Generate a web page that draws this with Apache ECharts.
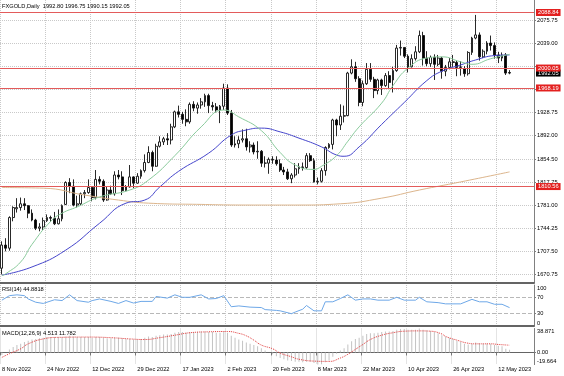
<!DOCTYPE html>
<html>
<head>
<meta charset="utf-8">
<title>FXGOLD Daily</title>
<script src="https://cdn.jsdelivr.net/npm/echarts@6/dist/echarts.min.js"></script>
<style>
  html, body { margin: 0; padding: 0; background: #fff; }
  #chart { width: 564px; height: 376px; }
</style>
</head>
<body>
<div id="chart"></div>
<script>
// bar dates (daily, broker calendar incl. two short Sunday sessions in March)
const dates = [
  '8 Nov 2022', '9 Nov 2022', '10 Nov 2022', '11 Nov 2022', '14 Nov 2022', '15 Nov 2022', '16 Nov 2022', '17 Nov 2022',
  '18 Nov 2022', '21 Nov 2022', '22 Nov 2022', '23 Nov 2022', '24 Nov 2022', '25 Nov 2022', '28 Nov 2022', '29 Nov 2022',
  '30 Nov 2022', '1 Dec 2022', '2 Dec 2022', '5 Dec 2022', '6 Dec 2022', '7 Dec 2022', '8 Dec 2022', '9 Dec 2022',
  '12 Dec 2022', '13 Dec 2022', '14 Dec 2022', '15 Dec 2022', '16 Dec 2022', '19 Dec 2022', '20 Dec 2022', '21 Dec 2022',
  '22 Dec 2022', '23 Dec 2022', '27 Dec 2022', '28 Dec 2022', '29 Dec 2022', '30 Dec 2022', '3 Jan 2023', '4 Jan 2023',
  '5 Jan 2023', '6 Jan 2023', '9 Jan 2023', '10 Jan 2023', '11 Jan 2023', '12 Jan 2023', '13 Jan 2023', '16 Jan 2023',
  '17 Jan 2023', '18 Jan 2023', '19 Jan 2023', '20 Jan 2023', '23 Jan 2023', '24 Jan 2023', '25 Jan 2023', '26 Jan 2023',
  '27 Jan 2023', '30 Jan 2023', '31 Jan 2023', '1 Feb 2023', '2 Feb 2023', '3 Feb 2023', '6 Feb 2023', '7 Feb 2023',
  '8 Feb 2023', '9 Feb 2023', '10 Feb 2023', '13 Feb 2023', '14 Feb 2023', '15 Feb 2023', '16 Feb 2023', '17 Feb 2023',
  '20 Feb 2023', '21 Feb 2023', '22 Feb 2023', '23 Feb 2023', '24 Feb 2023', '27 Feb 2023', '28 Feb 2023', '1 Mar 2023',
  '2 Mar 2023', '3 Mar 2023', '6 Mar 2023', '7 Mar 2023', '8 Mar 2023', '9 Mar 2023', '10 Mar 2023', '12 Mar 2023',
  '13 Mar 2023', '14 Mar 2023', '15 Mar 2023', '16 Mar 2023', '17 Mar 2023', '19 Mar 2023', '20 Mar 2023', '21 Mar 2023',
  '22 Mar 2023', '23 Mar 2023', '24 Mar 2023', '27 Mar 2023', '28 Mar 2023', '29 Mar 2023', '30 Mar 2023', '31 Mar 2023',
  '3 Apr 2023', '4 Apr 2023', '5 Apr 2023', '6 Apr 2023', '10 Apr 2023', '11 Apr 2023', '12 Apr 2023', '13 Apr 2023',
  '14 Apr 2023', '17 Apr 2023', '18 Apr 2023', '19 Apr 2023', '20 Apr 2023', '21 Apr 2023', '24 Apr 2023', '25 Apr 2023',
  '26 Apr 2023', '27 Apr 2023', '28 Apr 2023', '1 May 2023', '2 May 2023', '3 May 2023', '4 May 2023', '5 May 2023',
  '8 May 2023', '9 May 2023', '10 May 2023', '11 May 2023', '12 May 2023', '15 May 2023', '16 May 2023', '17 May 2023'
]

const open = [
  1680, 1717, 1712, 1761, 1775, 1777, 1783, 1780, 1768, 1757, 1744, 1746, 1756, 1761, 1760, 1751,
  1759, 1782, 1817, 1811, 1781, 1783, 1799, 1801, 1809, 1793, 1822, 1819, 1789, 1805, 1799, 1829,
  1826, 1804, 1810, 1826, 1816, 1827, 1836, 1849, 1865, 1843, 1875, 1882, 1887, 1885, 1906, 1930,
  1926, 1918, 1914, 1942, 1936, 1941, 1946, 1956, 1940, 1938, 1933, 1939, 1968, 1928, 1877, 1879,
  1885, 1887, 1874, 1877, 1866, 1867, 1848, 1848, 1854, 1853, 1847, 1837, 1834, 1823, 1829, 1839,
  1842, 1841, 1860, 1852, 1818, 1819, 1836, 1873, 1878, 1917, 1909, 1923, 1924, 1992, 2002, 1983,
  1945, 1975, 1998, 1982, 1964, 1981, 1972, 1988, 1981, 1996, 2032, 2033, 2019, 2002, 2015, 2026,
  2052, 2016, 2007, 2017, 2006, 2016, 1995, 2001, 2010, 2009, 2001, 1999, 1991, 2025, 2048, 2053,
  2018, 2027, 2040, 2036, 2021, 2016, 2021, 1992.80
]
const high = [
  1723, 1728, 1763, 1779, 1792, 1793, 1792, 1781, 1774, 1759, 1752, 1761, 1766, 1764, 1770, 1774,
  1782, 1819, 1824, 1822, 1796, 1801, 1805, 1822, 1810, 1837, 1827, 1822, 1810, 1812, 1835, 1837,
  1835, 1813, 1845, 1827, 1832, 1838, 1862, 1875, 1868, 1879, 1891, 1890, 1896, 1911, 1932, 1940,
  1930, 1934, 1945, 1947, 1945, 1952, 1959, 1959, 1946, 1944, 1941, 1975, 1974, 1933, 1891, 1891,
  1902, 1903, 1883, 1881, 1883, 1869, 1859, 1857, 1859, 1859, 1854, 1842, 1839, 1832, 1848, 1848,
  1849, 1864, 1864, 1856, 1825, 1840, 1875, 1880, 1919, 1919, 1942, 1940, 1994, 2014, 2010, 1987,
  1980, 2008, 2008, 1986, 1983, 1983, 1992, 1995, 2002, 2037, 2044, 2033, 2022, 2022, 2035, 2060,
  2058, 2027, 2020, 2022, 2021, 2018, 2005, 2016, 2021, 2012, 2011, 2003, 2027, 2050, 2085, 2057,
  2030, 2043, 2052, 2041, 2026, 2025, 2024, 1996.75
]
const low = [
  1670, 1707, 1708, 1755, 1769, 1772, 1773, 1760, 1755, 1741, 1739, 1741, 1754, 1754, 1749, 1750,
  1755, 1781, 1800, 1779, 1777, 1781, 1792, 1799, 1787, 1790, 1814, 1786, 1788, 1797, 1796, 1822,
  1797, 1803, 1809, 1808, 1815, 1823, 1833, 1848, 1835, 1842, 1873, 1877, 1877, 1878, 1904, 1921,
  1911, 1907, 1911, 1931, 1927, 1935, 1938, 1928, 1932, 1929, 1912, 1933, 1925, 1874, 1873, 1872,
  1881, 1868, 1865, 1862, 1855, 1842, 1841, 1831, 1847, 1844, 1834, 1829, 1821, 1816, 1825, 1831,
  1836, 1839, 1850, 1817, 1814, 1817, 1828, 1871, 1870, 1891, 1901, 1913, 1923, 1990, 1978, 1939,
  1939, 1973, 1978, 1952, 1958, 1957, 1970, 1967, 1961, 1994, 2020, 2016, 1993, 2001, 2012, 2024,
  2004, 2003, 2002, 1981, 2003, 1983, 1987, 1998, 2002, 1987, 1988, 1986, 1988, 2021, 2046, 2012,
  2016, 2022, 2028, 2015, 2008, 2011, 1989, 1990.15
]
const close = [
  1717, 1712, 1761, 1777, 1777, 1783, 1780, 1768, 1757, 1744, 1746, 1756, 1761, 1760, 1751, 1759,
  1780, 1817, 1811, 1781, 1783, 1799, 1801, 1809, 1793, 1822, 1819, 1789, 1805, 1799, 1829, 1826,
  1804, 1810, 1826, 1816, 1827, 1836, 1849, 1865, 1843, 1875, 1882, 1887, 1885, 1906, 1930, 1926,
  1918, 1914, 1942, 1936, 1941, 1946, 1956, 1940, 1938, 1933, 1939, 1968, 1928, 1877, 1879, 1885,
  1887, 1874, 1877, 1866, 1867, 1848, 1848, 1854, 1853, 1847, 1837, 1834, 1823, 1829, 1839, 1842,
  1841, 1860, 1852, 1818, 1819, 1836, 1873, 1878, 1917, 1909, 1923, 1924, 1992, 2002, 1983, 1945,
  1975, 1998, 1982, 1964, 1981, 1972, 1988, 1977, 1996, 2032, 2033, 2019, 2002, 2015, 2026, 2052,
  2016, 2007, 2017, 2006, 2016, 1995, 2001, 2010, 2009, 2001, 2002, 1991, 2025, 2048, 2053, 2018,
  2027, 2040, 2036, 2021, 2016, 2021, 1992, 1992.05
]

// moving averages: [bar index, value]
const maFast = [
  [0, 1668], [1, 1671], [5, 1690], [8, 1718], [13, 1755], [16, 1768], [20, 1778], [26, 1794], [34, 1805],
  [39, 1821], [46, 1860], [53, 1906], [59, 1933], [63, 1922], [69, 1900], [74, 1865], [78, 1845], [83, 1838],
  [85, 1843], [89, 1860], [92, 1883], [95, 1906], [101, 1944], [104, 1972], [108, 2000], [113, 2016],
  [117, 2018], [122, 2010], [125, 2006], [130, 2015], [135, 2022]
]
const maMid = [
  [0, 1669], [8, 1682], [17, 1709], [26, 1752], [33, 1784], [38, 1789], [42, 1810], [47, 1835], [55, 1864],
  [61, 1893], [65, 1901], [69, 1904], [74, 1898], [79, 1888], [85, 1874], [89, 1861], [91, 1859], [95, 1874],
  [101, 1910], [107, 1945], [113, 1980], [117, 1995], [122, 2005], [126, 2013], [131, 2020], [135, 2021]
]
const maSlow = [
  [0, 1809], [11, 1808], [22, 1797], [31, 1789], [39, 1784], [53, 1782], [66, 1781], [79, 1781], [90, 1783],
  [101, 1792], [111, 1805], [122, 1818], [135, 1834]
]

// horizontal levels drawn on the chart
const levels = [2088.84, 2000.05, 1968.19, 1810.56]
const lastPrice = 1992.05

// RSI(14): [bar index, value]
const rsi = [
  [0, 63], [2, 74], [4, 76], [6, 74], [7, 66], [9, 58], [11, 55], [14, 64], [16, 62], [18, 76], [20, 62],
  [23, 58], [24, 62], [26, 66], [29, 60], [31, 55], [33, 62], [35, 56], [37, 60], [40, 60], [41, 72], [44, 68],
  [46, 76], [48, 70], [50, 70], [53, 76], [55, 66], [57, 67], [59, 74], [61, 47], [63, 49], [66, 46], [69, 45],
  [70, 40], [73, 38], [74, 37], [77, 30], [78, 34], [80, 41], [81, 50], [83, 37], [85, 37], [86, 59], [88, 59],
  [90, 67], [92, 76], [94, 63], [96, 66], [98, 66], [100, 63], [103, 63], [105, 70], [107, 63], [110, 63],
  [111, 70], [113, 59], [116, 57], [118, 54], [122, 54], [125, 65], [127, 59], [129, 59], [131, 53], [133, 53],
  [135, 44.8818]
]

// MACD(12,26,9): main line per bar, signal read at points
const macd = [
  -4, 0, 5, 9, 12, 14, 17, 19, 21, 22, 23, 24, 25, 25, 25, 25,
  25, 26, 27, 26, 25, 25, 25, 25, 24, 25, 25, 24, 23, 23, 24, 24,
  23, 22, 22, 21, 21, 22, 24, 26, 25, 27, 28, 29, 29, 30, 32, 33,
  33, 32, 33, 33, 33, 34, 34, 33, 33, 32, 32, 34, 32, 27, 24, 21,
  19, 16, 14, 12, 10, 7, 3, 0, -3, -6, -9, -11, -13, -14, -15, -15,
  -16, -15, -15, -17, -19.664, -19, -16, -13, -7, -2, 3, 7, 13, 18, 22, 24,
  27, 30, 31, 31, 32, 33, 34, 34, 35, 37, 38, 38, 37, 37, 37, 38.871,
  37, 36, 35, 33, 31, 28, 26, 24, 22, 19, 17, 14, 13, 14, 16, 15,
  14, 14, 14, 12, 11, 10, 6, 4.513
]
const macdSignal = [
  [0, -8], [2, -2], [5, 6], [7, 14], [11, 22], [15, 24.5], [23, 25], [29, 24], [34, 22], [38, 21], [42, 24],
  [46, 28], [50, 32], [55, 33.5], [60, 34], [63, 31], [65, 27], [67, 20], [69, 12], [72, 6], [74, -1], [77, -7],
  [79, -11], [83, -14], [87, -14.5], [90, -9], [92, -3], [94, 5], [96, 13], [98, 21], [101, 28], [104, 32],
  [107, 34.5], [111, 35], [114, 34.5], [117, 30], [118, 26], [121, 20], [124, 15], [126, 14], [130, 14],
  [132, 13], [135, 11.782]
]

// axis ticks
const priceTicks = [1670.75, 1707.5, 1744.25, 1781, 1817.75, 1854.5, 1892, 1928.75, 1965.5, 2002.25, 2039, 2075.75]
const priceLabels = [1670.75, 1707.5, 1744.25, 1781, 1817.75, 1854.5, 1892, 1928.75, 2039, 2075.75]
const rsiLevels = [30, 70]
const rsiLabels = [0, 30, 70, 100]
const macdLabels = [-19.664, 0, 38.871]

const FONT = '"Liberation Sans", Arial, sans-serif'
const FS = 5.7
const emptyBars = 6 // chart shift on the right
const cats = dates.concat(new Array(emptyBars).fill(''))
const candles = dates.map((d, i) => [open[i], close[i], low[i], high[i]])

const gridLine = { show: true, lineStyle: { color: '#c9c9c9', type: 'dotted', width: 1 } }
const axisText = { color: '#000', fontSize: FS, fontFamily: FONT }

function xAxisFor(gridIndex, lineWidth, withLabels) {
  return {
    type: 'category',
    gridIndex: gridIndex,
    data: cats,
    boundaryGap: true,
    axisLine: { show: true, lineStyle: { color: '#646464', width: lineWidth } },
    axisTick: { show: withLabels, interval: 11, length: 3, lineStyle: { color: '#777' } },
    axisLabel: Object.assign({ show: withLabels, interval: 11, align: 'left', margin: 2, hideOverlap: false }, axisText),
    splitLine: Object.assign({ interval: 11 }, gridLine)
  }
}

const chart = echarts.init(document.getElementById('chart'), null, { renderer: 'canvas' })

const labelBox = {
  show: true, position: 'end', distance: 2, color: '#fff',
  padding: [1, 2, 0, 2], lineHeight: 6, fontSize: FS, fontFamily: FONT,
  formatter: p => p.value.toFixed(2)
}

const option = {
  animation: false,
  backgroundColor: '#fff',
  title: [
    { text: 'FXGOLD,Daily  1992.80 1996.75 1990.15 1992.05', left: 2, top: 3, padding: 0,
      textStyle: { fontSize: FS, fontWeight: 'normal', color: '#000', fontFamily: FONT } },
    { text: 'RSI(14) 44.8818', left: 2, top: 286, padding: 0,
      textStyle: { fontSize: FS, fontWeight: 'normal', color: '#000', fontFamily: FONT } },
    { text: 'MACD(12,26,9) 4.513 11.782', left: 2, top: 330, padding: 0,
      textStyle: { fontSize: FS, fontWeight: 'normal', color: '#000', fontFamily: FONT } }
  ],
  grid: [
    { left: 0, top: 0, width: 534, height: 282.5, containLabel: false, outerBoundsMode: 'none' },
    { left: 0, top: 285, width: 534, height: 41, containLabel: false, outerBoundsMode: 'none' },
    { left: 0, top: 328.5, width: 534, height: 36.1, containLabel: false, outerBoundsMode: 'none' }
  ],
  xAxis: [
    xAxisFor(0, 2, false),
    xAxisFor(1, 2, false),
    xAxisFor(2, 1, true)
  ],
  yAxis: [
    {
      type: 'value', gridIndex: 0, position: 'right', min: 1657.16, max: 2108.85,
      axisLine: { show: true, lineStyle: { color: '#808080' } },
      axisTick: { show: true, length: 2, customValues: priceTicks, lineStyle: { color: '#808080' } },
      axisLabel: Object.assign({ customValues: priceLabels, margin: 3, hideOverlap: false,
        formatter: v => v.toFixed(2) }, axisText),
      splitLine: gridLine
    },
    {
      type: 'value', gridIndex: 1, position: 'right', min: 0, max: 100,
      axisLine: { show: true, lineStyle: { color: '#808080' } },
      axisTick: { show: true, length: 2, customValues: rsiLevels, lineStyle: { color: '#808080' } },
      axisLabel: Object.assign({ customValues: rsiLabels, margin: 3, hideOverlap: false,
        verticalAlignMaxLabel: 'top', verticalAlignMinLabel: 'bottom' }, axisText),
      splitLine: { show: true, lineStyle: { color: '#b8b8b8', type: 'dashed', width: 1 } }
    },
    {
      type: 'value', gridIndex: 2, position: 'right', min: -19.664, max: 38.871,
      axisLine: { show: true, lineStyle: { color: '#808080' } },
      axisTick: { show: true, length: 2, customValues: [0], lineStyle: { color: '#808080' } },
      axisLabel: Object.assign({ customValues: macdLabels, margin: 3, hideOverlap: false,
        verticalAlignMaxLabel: 'top', verticalAlignMinLabel: 'bottom',
        formatter: v => (v === 0 ? '0.00' : String(v)) }, axisText),
      splitLine: gridLine
    }
  ],
  series: [
    {
      name: 'MA slow', type: 'line', xAxisIndex: 0, yAxisIndex: 0, data: maSlow,
      showSymbol: false, smooth: true, lineStyle: { color: '#dcb58c', width: 1 }, silent: true
    },
    {
      name: 'MA mid', type: 'line', xAxisIndex: 0, yAxisIndex: 0, data: maMid,
      showSymbol: false, smooth: true, lineStyle: { color: '#4646cc', width: 1 }, silent: true
    },
    {
      name: 'MA fast', type: 'line', xAxisIndex: 0, yAxisIndex: 0, data: maFast,
      showSymbol: false, smooth: true, lineStyle: { color: '#8acb9c', width: 1 }, silent: true
    },
    {
      // last price tag (no line)
      name: 'Bid', type: 'line', xAxisIndex: 0, yAxisIndex: 0, data: [], silent: true,
      markLine: {
        silent: true,
        symbol: ['none', 'none'],
        lineStyle: { color: 'rgba(0,0,0,0)', width: 1, type: 'solid' },
        label: Object.assign({}, labelBox, { backgroundColor: '#000' }),
        data: [{ yAxis: lastPrice }]
      }
    },
    {
      name: 'FXGOLD', type: 'candlestick', xAxisIndex: 0, yAxisIndex: 0, data: candles,
      barWidth: 2.4,
      itemStyle: { color: '#fff', color0: '#000', borderColor: '#111', borderColor0: '#111', borderWidth: 0.9 },
      markLine: {
        silent: true,
        symbol: ['none', 'none'],
        lineStyle: { color: '#e35b5b', width: 1.2, type: 'solid' },
        label: Object.assign({}, labelBox, { backgroundColor: '#e3201f' }),
        data: levels.map(v => ({ yAxis: v }))
      }
    },
    {
      name: 'RSI', type: 'line', xAxisIndex: 1, yAxisIndex: 1, data: rsi,
      showSymbol: false, lineStyle: { color: '#6ea8e8', width: 1 }, silent: true
    },
    {
      name: 'MACD', type: 'bar', xAxisIndex: 2, yAxisIndex: 2, data: macd,
      barWidth: 1, itemStyle: { color: '#c3c3c3' }, silent: true
    },
    {
      name: 'Signal', type: 'line', xAxisIndex: 2, yAxisIndex: 2, data: macdSignal,
      showSymbol: false, smooth: true, lineStyle: { color: '#e23b3b', width: 1, type: 'dotted' }, silent: true
    }
  ]
}

chart.setOption(option)
</script>
</body>
</html>
